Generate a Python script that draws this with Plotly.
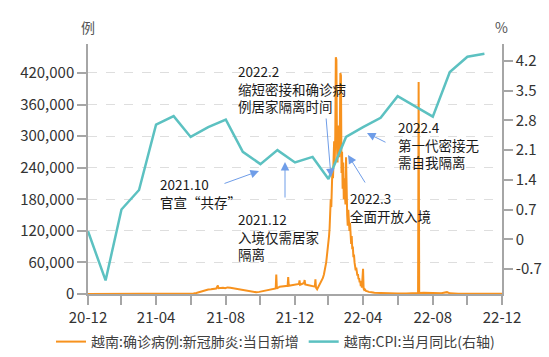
import plotly.graph_objects as go
import pandas as pd

# ---------------- data ----------------
cpi_months = ['2020-12', '2021-01', '2021-02', '2021-03', '2021-04', '2021-05', '2021-06',
              '2021-07', '2021-08', '2021-09', '2021-10', '2021-11', '2021-12', '2022-01',
              '2022-02', '2022-03', '2022-04', '2022-05', '2022-06', '2022-07', '2022-08',
              '2022-09', '2022-10', '2022-11']
cpi_values = [0.19, -0.97, 0.70, 1.16, 2.70, 2.90, 2.41, 2.64, 2.82, 2.06, 1.77, 2.10, 1.81,
              1.94, 1.42, 2.41, 2.64, 2.86, 3.37, 3.14, 2.89, 3.94, 4.30, 4.37]

case_dates = [
    '2020-12-31', '2021-01-15', '2021-01-28', '2021-02-05', '2021-02-20', '2021-03-10', '2021-04-10',
    '2021-04-30', '2021-05-10', '2021-05-20', '2021-05-31', '2021-06-10', '2021-06-20', '2021-06-30',
    '2021-07-05', '2021-07-10', '2021-07-15', '2021-07-20', '2021-07-25', '2021-07-31', '2021-08-05',
    '2021-08-10', '2021-08-14', '2021-08-17', '2021-08-18', '2021-08-22', '2021-08-26', '2021-08-30',
    '2021-09-03', '2021-09-08', '2021-09-13', '2021-09-18', '2021-09-23', '2021-09-28', '2021-10-03',
    '2021-10-08', '2021-10-13', '2021-10-18', '2021-10-24', '2021-10-29', '2021-11-03', '2021-11-08',
    '2021-11-13', '2021-11-18', '2021-11-23', '2021-11-27', '2021-11-28', '2021-11-29', '2021-12-04',
    '2021-12-09', '2021-12-14', '2021-12-18', '2021-12-19', '2021-12-20', '2021-12-25', '2021-12-30',
    '2022-01-03', '2022-01-07', '2022-01-08', '2022-01-09', '2022-01-13', '2022-01-16', '2022-01-17',
    '2022-01-18', '2022-01-22', '2022-01-27', '2022-02-01', '2022-02-04', '2022-02-05', '2022-02-06',
    '2022-02-08', '2022-02-10', '2022-02-12', '2022-02-14', '2022-02-16', '2022-02-18', '2022-02-20',
    '2022-02-22', '2022-02-23', '2022-02-24', '2022-02-25', '2022-02-26', '2022-02-27', '2022-02-28',
    '2022-03-01', '2022-03-02', '2022-03-03', '2022-03-04', '2022-03-05', '2022-03-06', '2022-03-07',
    '2022-03-08', '2022-03-09', '2022-03-10', '2022-03-11', '2022-03-12', '2022-03-13', '2022-03-14',
    '2022-03-15', '2022-03-16', '2022-03-17', '2022-03-18', '2022-03-19', '2022-03-20', '2022-03-21',
    '2022-03-22', '2022-03-23', '2022-03-24', '2022-03-25', '2022-03-26', '2022-03-27', '2022-03-28',
    '2022-03-29', '2022-03-30', '2022-03-31', '2022-04-01', '2022-04-02', '2022-04-03', '2022-04-04',
    '2022-04-05', '2022-04-06', '2022-04-07', '2022-04-08', '2022-04-09', '2022-04-10', '2022-04-11',
    '2022-04-12', '2022-04-13', '2022-04-14', '2022-04-15', '2022-04-16', '2022-04-17', '2022-04-18',
    '2022-04-19', '2022-04-20', '2022-04-21', '2022-04-22', '2022-04-23', '2022-04-24', '2022-04-25',
    '2022-04-26', '2022-04-27', '2022-04-28', '2022-04-29', '2022-04-30', '2022-05-01', '2022-05-02',
    '2022-05-03', '2022-05-05', '2022-05-08', '2022-05-10', '2022-05-15', '2022-05-20', '2022-05-31',
    '2022-06-15', '2022-06-30', '2022-07-15', '2022-07-31', '2022-08-05', '2022-08-06', '2022-08-07',
    '2022-08-15', '2022-08-31', '2022-09-15', '2022-09-25', '2022-09-30', '2022-10-15', '2022-10-31',
    '2022-11-15', '2022-11-30', '2022-12-15', '2022-12-31']
case_values = [
    2, 3, 80, 50, 20, 10, 5,
    10, 100, 150, 300, 250, 400, 500,
    1000, 2000, 3500, 5500, 7500, 8500, 9000,
    10000, 10500, 16000, 11000, 11500, 12000, 11000,
    12500, 12000, 11000, 10000, 9000, 7500, 6500,
    5500, 4500, 3800, 3200, 4000, 5200, 6000,
    7200, 8000, 9200, 10500, 37000, 10500, 14000,
    14500, 15000, 15500, 32000, 15500, 16500, 17000,
    18000, 19000, 26000, 17500, 19500, 21000, 26500,
    18000, 17000, 16000, 14500, 14000, 28000, 12000,
    9000, 13000, 17000, 20000, 24000, 30000, 37000,
    46000, 52000, 60000, 70000, 78000, 88000, 95000,
    110000, 125000, 150000, 180000, 165000, 200000, 240000,
    220000, 260000, 290000, 250000, 300000, 450000, 445000,
    280000, 250000, 320000, 290000, 260000, 300000, 420000,
    415000, 230000, 270000, 200000, 250000, 180000, 220000,
    190000, 170000, 260000, 175000, 150000, 130000, 160000,
    140000, 120000, 135000, 105000, 95000, 110000, 85000,
    90000, 70000, 75000, 60000, 55000, 45000, 50000,
    40000, 35000, 38000, 28000, 30000, 22000, 25000,
    15000, 20000, 12000, 40000, 48000, 10000, 8000,
    9000, 6000, 5000, 4000, 3500, 2500, 2000,
    1000, 800, 1000, 1500, 1800, 403000, 2000,
    2500, 2000, 1500, 3500, 1200, 700, 500,
    400, 300, 300, 300]

left_ticks = [0, 60000, 120000, 180000, 240000, 300000, 360000, 420000]
right_ticks = [-0.7, 0, 0.7, 1.4, 2.1, 2.8, 3.5, 4.2]
right_tick_labels = ['-0.7', '0', '0.7', '1.4', '2.1', '2.8', '3.5', '4.2']
x_tick_dates = ['2020-12-31', '2021-02-28', '2021-04-30', '2021-06-30', '2021-08-31', '2021-10-31',
                '2021-12-31', '2022-02-28', '2022-04-30', '2022-06-30', '2022-08-31', '2022-10-31',
                '2022-12-31']
x_tick_labels = ['20-12', '', '21-04', '', '21-08', '', '21-12', '', '22-04', '', '22-08', '', '22-12']

series_names = ['越南:确诊病例:新冠肺炎:当日新增', '越南:CPI:当月同比(右轴)']

# ---------------- figure ----------------
FONT = 'Microsoft YaHei, Noto Sans CJK SC, sans-serif'
ORANGE = '#F7921E'
TEAL = '#5CC1C1'
AXIS = '#A6A6A6'
ARROW = '#6F9DE8'

cpi_dates = (pd.to_datetime(cpi_months) + pd.offsets.MonthEnd(0)).strftime('%Y-%m-%d').tolist()

fig = go.Figure()
fig.add_trace(go.Scatter(x=case_dates, y=case_values, mode='lines', name=series_names[0],
                         line=dict(color=ORANGE, width=2)))
fig.add_trace(go.Scatter(x=cpi_dates, y=cpi_values, mode='lines', name=series_names[1],
                         line=dict(color=TEAL, width=2.5), yaxis='y2'))

W, H = 549, 357
L, R, T, B = 88, 47, 44, 63
PW, PH = W - L - R, H - T - B


def px(xp):
    return (xp - L) / PW


def py(yp):
    return (H - B - yp) / PH


ann = []
# axis unit labels
ann.append(dict(text='例', x=px(88), y=py(27), xref='paper', yref='paper', showarrow=False,
                xanchor='center', yanchor='middle', font=dict(size=14, color='#555555', family=FONT)))
ann.append(dict(text='%', x=px(501), y=py(27), xref='paper', yref='paper', showarrow=False,
                xanchor='center', yanchor='middle', font=dict(size=14, color='#555555', family=FONT)))

# text blocks: (left x, center y, lines)
blocks = [
    (236, 88, ['2022.2', '缩短密接和确诊病', '例居家隔离时间']),
    (158, 192.5, ['2021.10', '官宣“共存”']),
    (236, 236.5, ['2021.12', '入境仅需居家', '隔离']),
    (348, 207, ['2022.3', '全面开放入境']),
    (396, 144, ['2022.4', '第一代密接无', '需自我隔离']),
]
for xl, yc, lines in blocks:
    ann.append(dict(text='<br>'.join(lines), x=px(xl), y=py(yc), xref='paper', yref='paper',
                    showarrow=False, xanchor='left', yanchor='middle', align='left',
                    font=dict(size=13.5, color='#1a1a1a', family=FONT)))

# arrows: head (x,y), tail offset (ax, ay) in pixels
arrows = [((331, 177), (-5, -60)), ((259, 171), (-36, 13)), ((285, 162), (0, 37)),
          ((348, 155), (18, 29)), ((367, 133), (20, 10))]
for (hx, hy), (ax, ay) in arrows:
    ann.append(dict(text='', x=px(hx), y=py(hy), xref='paper', yref='paper', showarrow=True,
                    ax=ax, ay=ay, arrowhead=2, arrowsize=1.7, arrowwidth=1, arrowcolor=ARROW,
                    standoff=0, startstandoff=0))

fig.update_layout(
    width=W, height=H,
    margin=dict(l=L, r=R, t=T, b=B, autoexpand=False),
    paper_bgcolor='white', plot_bgcolor='white',
    font=dict(family=FONT, size=15, color='#333333'),
    showlegend=True,
    legend=dict(orientation='h', x=px(51), xanchor='left', y=py(342), yanchor='middle',
                font=dict(size=14, color='#404040', family=FONT), bgcolor='rgba(0,0,0,0)',
                itemwidth=30, tracegroupgap=0),
    xaxis=dict(type='date', range=['2020-12-31', '2022-12-31'], tickvals=x_tick_dates,
               ticktext=x_tick_labels, showgrid=False, zeroline=False, showline=True,
               linecolor=AXIS, linewidth=1.5, ticks='outside', ticklen=9, tickcolor=AXIS,
               tickwidth=1.5, tickfont=dict(size=15, color='#333333')),
    yaxis=dict(range=[0, 475000], tickvals=left_ticks, tickformat=',d', showgrid=True,
               gridcolor='#DEDEDE', griddash='dash', gridwidth=1, zeroline=False, showline=True,
               linecolor=AXIS, linewidth=1.5, ticks='outside', ticklen=9, tickcolor=AXIS,
               tickwidth=1.5, tickfont=dict(size=15, color='#333333')),
    yaxis2=dict(range=[-1.29, 4.60], overlaying='y', side='right', tickvals=right_ticks,
                ticktext=right_tick_labels, showgrid=False, zeroline=False, showline=True,
                linecolor=AXIS, linewidth=1.5, ticks='outside', ticklen=9, tickcolor=AXIS,
                tickwidth=1.5, tickfont=dict(size=15, color='#333333')),
    annotations=ann,
)

fig.write_html('out.html', config={'displayModeBar': False},
               post_script="document.body.style.margin='0';document.body.style.overflow='hidden';")
